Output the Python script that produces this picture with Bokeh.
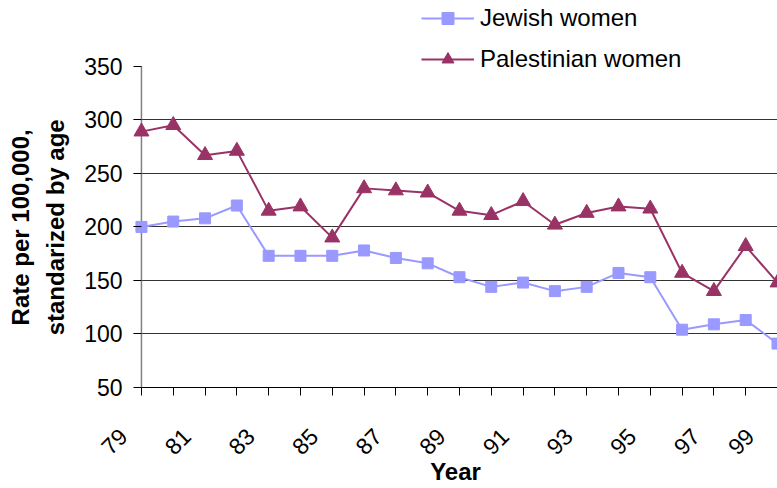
import math
from bokeh.plotting import figure
from bokeh.models import FixedTicker, Legend, LegendItem, Range1d
from bokeh.embed import file_html
from bokeh.resources import INLINE

# ---- data ----
years = list(range(79, 100))
jewish = [200, 205, 208, 220, 173, 173, 173, 178, 171, 166, 153,
          144, 148, 140, 144, 157, 153, 104, 109, 113, 91]
palestinian = [289, 295, 267, 271, 215, 219, 190, 236, 234, 232, 215,
               211, 224, 202, 213, 219, 217, 157, 140, 182, 148]
x_label_years = list(range(79, 100, 2))
x_minor_years = list(range(80, 99, 2))
y_ticks = [50, 100, 150, 200, 250, 300, 350]
grid_ticks = [100, 150, 200, 250, 300]
series_names = ["Jewish women", "Palestinian women"]
y_title_lines = ["Rate per 100,000,", "standarized by age"]
x_title = "Year"

JEW = "#9999FF"
PAL = "#993366"
FONT = "Liberation Sans"
NB = "\u00a0"

# frame runs to the top of the canvas (legend lives inside it);
# value 350 sits 66 px below the top, value 50 at 388 px
FRAME_H = 388
TOP_GAP = 66
y_lo, y_hi = y_ticks[0], y_ticks[-1]
y_top = y_hi + (y_hi - y_lo) * TOP_GAP / (FRAME_H - TOP_GAP)

p = figure(width=777, height=488,
           x_range=Range1d(78.75, 99), y_range=Range1d(y_lo, y_top),
           output_backend="svg", toolbar_location=None,
           min_border_left=133, min_border_right=0,
           min_border_top=0, min_border_bottom=100)
p.outline_line_color = None
p.background_fill_color = "white"
p.border_fill_color = "white"
p.xgrid.visible = False
p.ygrid.ticker = FixedTicker(ticks=grid_ticks)
p.ygrid.grid_line_color = "#333333"
p.ygrid.grid_line_width = 1

# value axis line at the first category
p.segment(x0=[years[0]], y0=[y_lo], x1=[years[0]], y1=[y_hi],
          line_color="#808080", line_width=1.5)

lj = p.line(years, jewish, line_color=JEW, line_width=2)
sj = p.scatter(years, jewish, marker="square", size=11,
               fill_color=JEW, line_color=JEW)
lp = p.line(years, palestinian, line_color=PAL, line_width=2)
tp = p.scatter(years, palestinian, marker="triangle", size=15,
               fill_color=PAL, line_color=PAL)

# x axis
xa = p.xaxis[0]
xa.ticker = FixedTicker(ticks=x_label_years, minor_ticks=x_minor_years)
xa.major_label_overrides = {y: f"{y}{NB * 4}" for y in x_label_years}
xa.bounds = (79, 99)
xa.major_label_orientation = math.pi / 4
xa.major_tick_out = 8
xa.major_tick_in = 0
xa.minor_tick_out = 8
xa.minor_tick_in = 0
xa.axis_line_color = "black"
xa.major_tick_line_color = "black"
xa.minor_tick_line_color = "black"
xa.major_label_text_font = FONT
xa.major_label_text_font_size = "23px"
xa.major_label_text_color = "black"
xa.major_label_standoff = 19
xa.axis_label = x_title
xa.axis_label_text_font = FONT
xa.axis_label_text_font_size = "24px"
xa.axis_label_text_font_style = "bold"
xa.axis_label_text_color = "black"
xa.axis_label_standoff = -14

# y axis (ticks drawn inward from frame edge up to the value-axis line)
ya = p.yaxis[0]
ya.ticker = FixedTicker(ticks=y_ticks)
ya.major_tick_out = 0
ya.major_tick_in = 8
ya.minor_tick_line_color = None
ya.axis_line_color = None
ya.major_tick_line_color = "black"
ya.major_label_text_font = FONT
ya.major_label_text_font_size = "23px"
ya.major_label_text_color = "black"
ya.major_label_standoff = 11
ya.axis_label = "\n".join(line + NB * 10 for line in y_title_lines)
ya.axis_label_text_font = FONT
ya.axis_label_text_font_size = "24px"
ya.axis_label_text_font_style = "bold"
ya.axis_label_text_color = "black"
ya.axis_label_text_line_height = 1.3
ya.axis_label_standoff = 12

legend = Legend(items=[LegendItem(label=series_names[0], renderers=[lj, sj]),
                       LegendItem(label=series_names[1], renderers=[lp, tp])],
                location=(288, 313), orientation="vertical",
                padding=0, margin=0, spacing=11,
                glyph_width=53, glyph_height=30, label_height=24,
                label_standoff=6,
                label_text_font=FONT, label_text_font_size="24px",
                label_text_color="black",
                border_line_color=None, background_fill_alpha=0)
p.add_layout(legend, "center")

open("out.html", "w").write(file_html(p, INLINE))
